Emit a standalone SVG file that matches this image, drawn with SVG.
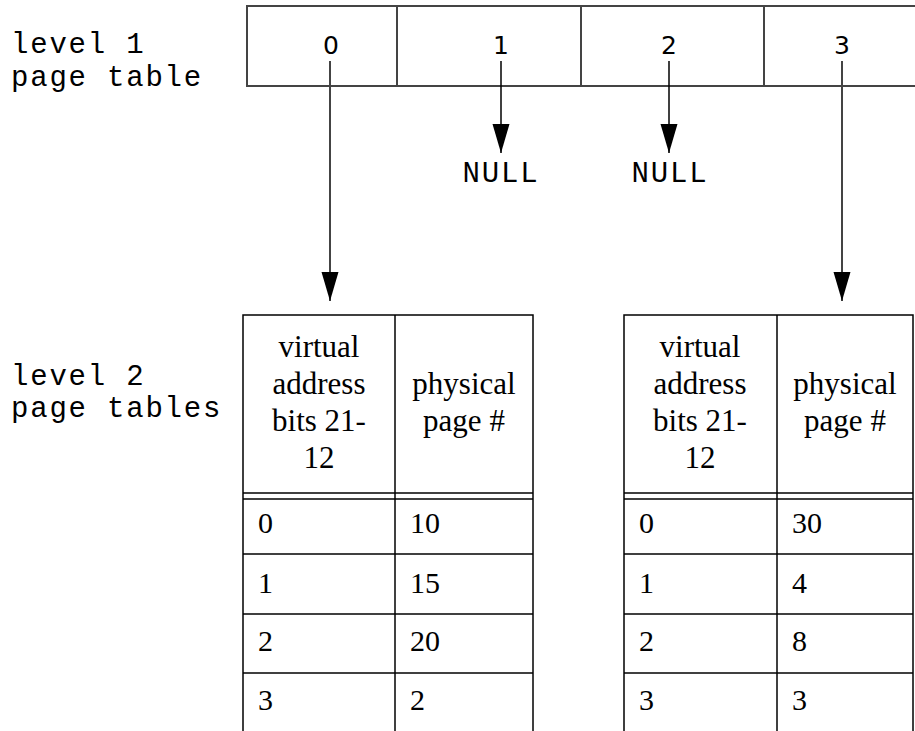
<svg xmlns="http://www.w3.org/2000/svg" width="915" height="731" viewBox="0 0 915 731">
  <defs>
    <style>
      .mono { font-family: "Liberation Mono", "DejaVu Sans Mono", monospace; font-size: 29px; letter-spacing: 1.8px; fill: #000; }
      .sans { font-family: "DejaVu Sans", "Liberation Sans", sans-serif; font-size: 25px; fill: #000; text-anchor: middle; }
      .serif { font-family: "Liberation Serif", "Times New Roman", serif; font-size: 30px; fill: #000; }
      .hdr { text-anchor: middle; font-size: 31px; }
      .top { fill: none; stroke: #444; stroke-width: 2; }
      .tbl { fill: none; stroke: #000; stroke-width: 1.5; }
      .conn { stroke: #444; stroke-width: 2; fill: none; }
      .conn-thin { stroke: #000; stroke-width: 1.5; fill: none; }
    </style>
    <marker id="arrow" markerUnits="userSpaceOnUse" markerWidth="30" markerHeight="18" refX="29" refY="8.5" orient="auto">
      <path d="M0,0 L29,8.5 L0,17 z" fill="#000"/>
    </marker>
  </defs>
  <rect width="915" height="731" fill="#fff"/>

  <g id="level1-label">
    <text class="mono" x="11" y="53">level 1</text>
    <text class="mono" x="11" y="86">page table</text>
  </g>

  <g id="level1-table">
    <rect class="top" x="247" y="6" width="680" height="80"/>
    <line class="top" x1="397" y1="6" x2="397" y2="86"/>
    <line class="top" x1="581" y1="6" x2="581" y2="86"/>
    <line class="top" x1="764" y1="6" x2="764" y2="86"/>
    <text class="sans" x="331" y="54">0</text>
    <text class="sans" x="501" y="54">1</text>
    <text class="sans" x="669" y="54">2</text>
    <text class="sans" x="842" y="54">3</text>
  </g>

  <g id="null-1">
    <text class="mono" x="501" y="182" text-anchor="middle">NULL</text>
  </g>
  <g id="null-2">
    <text class="mono" x="670" y="182" text-anchor="middle">NULL</text>
  </g>

  <g id="level2-label">
    <text class="mono" x="11" y="385">level 2</text>
    <text class="mono" x="11" y="417">page tables</text>
  </g>

  <g id="table-left">
    <rect class="tbl" x="243" y="315" width="290" height="420"/>
    <line class="tbl" x1="395" y1="315" x2="395" y2="735"/>
    <line class="tbl" x1="243" y1="493" x2="533" y2="493"/>
    <line class="tbl" x1="243" y1="499" x2="533" y2="499"/>
    <line class="tbl" x1="243" y1="554" x2="533" y2="554"/>
    <line class="tbl" x1="243" y1="614" x2="533" y2="614"/>
    <line class="tbl" x1="243" y1="673" x2="533" y2="673"/>
    <text class="serif hdr" x="319" y="357">virtual</text>
    <text class="serif hdr" x="319" y="394">address</text>
    <text class="serif hdr" x="319" y="431">bits 21-</text>
    <text class="serif hdr" x="319" y="468">12</text>
    <text class="serif hdr" x="464" y="394">physical</text>
    <text class="serif hdr" x="464" y="431">page #</text>
    <text class="serif" x="258" y="533">0</text>
    <text class="serif" x="410" y="533">10</text>
    <text class="serif" x="258" y="593">1</text>
    <text class="serif" x="410" y="593">15</text>
    <text class="serif" x="258" y="651">2</text>
    <text class="serif" x="410" y="651">20</text>
    <text class="serif" x="258" y="710">3</text>
    <text class="serif" x="410" y="710">2</text>
  </g>

  <g id="table-right">
    <rect class="tbl" x="624" y="315" width="289" height="420"/>
    <line class="tbl" x1="777" y1="315" x2="777" y2="735"/>
    <line class="tbl" x1="624" y1="493" x2="913" y2="493"/>
    <line class="tbl" x1="624" y1="499" x2="913" y2="499"/>
    <line class="tbl" x1="624" y1="554" x2="913" y2="554"/>
    <line class="tbl" x1="624" y1="614" x2="913" y2="614"/>
    <line class="tbl" x1="624" y1="673" x2="913" y2="673"/>
    <text class="serif hdr" x="700" y="357">virtual</text>
    <text class="serif hdr" x="700" y="394">address</text>
    <text class="serif hdr" x="700" y="431">bits 21-</text>
    <text class="serif hdr" x="700" y="468">12</text>
    <text class="serif hdr" x="845" y="394">physical</text>
    <text class="serif hdr" x="845" y="431">page #</text>
    <text class="serif" x="639" y="533">0</text>
    <text class="serif" x="792" y="533">30</text>
    <text class="serif" x="639" y="593">1</text>
    <text class="serif" x="792" y="593">4</text>
    <text class="serif" x="639" y="651">2</text>
    <text class="serif" x="792" y="651">8</text>
    <text class="serif" x="639" y="710">3</text>
    <text class="serif" x="792" y="710">3</text>
  </g>

  <g id="connectors">
    <line class="conn" x1="330" y1="61" x2="330" y2="301" marker-end="url(#arrow)"/>
    <line class="conn-thin" x1="501" y1="61" x2="501" y2="153" marker-end="url(#arrow)"/>
    <line class="conn-thin" x1="669" y1="61" x2="669" y2="153" marker-end="url(#arrow)"/>
    <line class="conn" x1="842" y1="61" x2="842" y2="301" marker-end="url(#arrow)"/>
  </g>
</svg>
